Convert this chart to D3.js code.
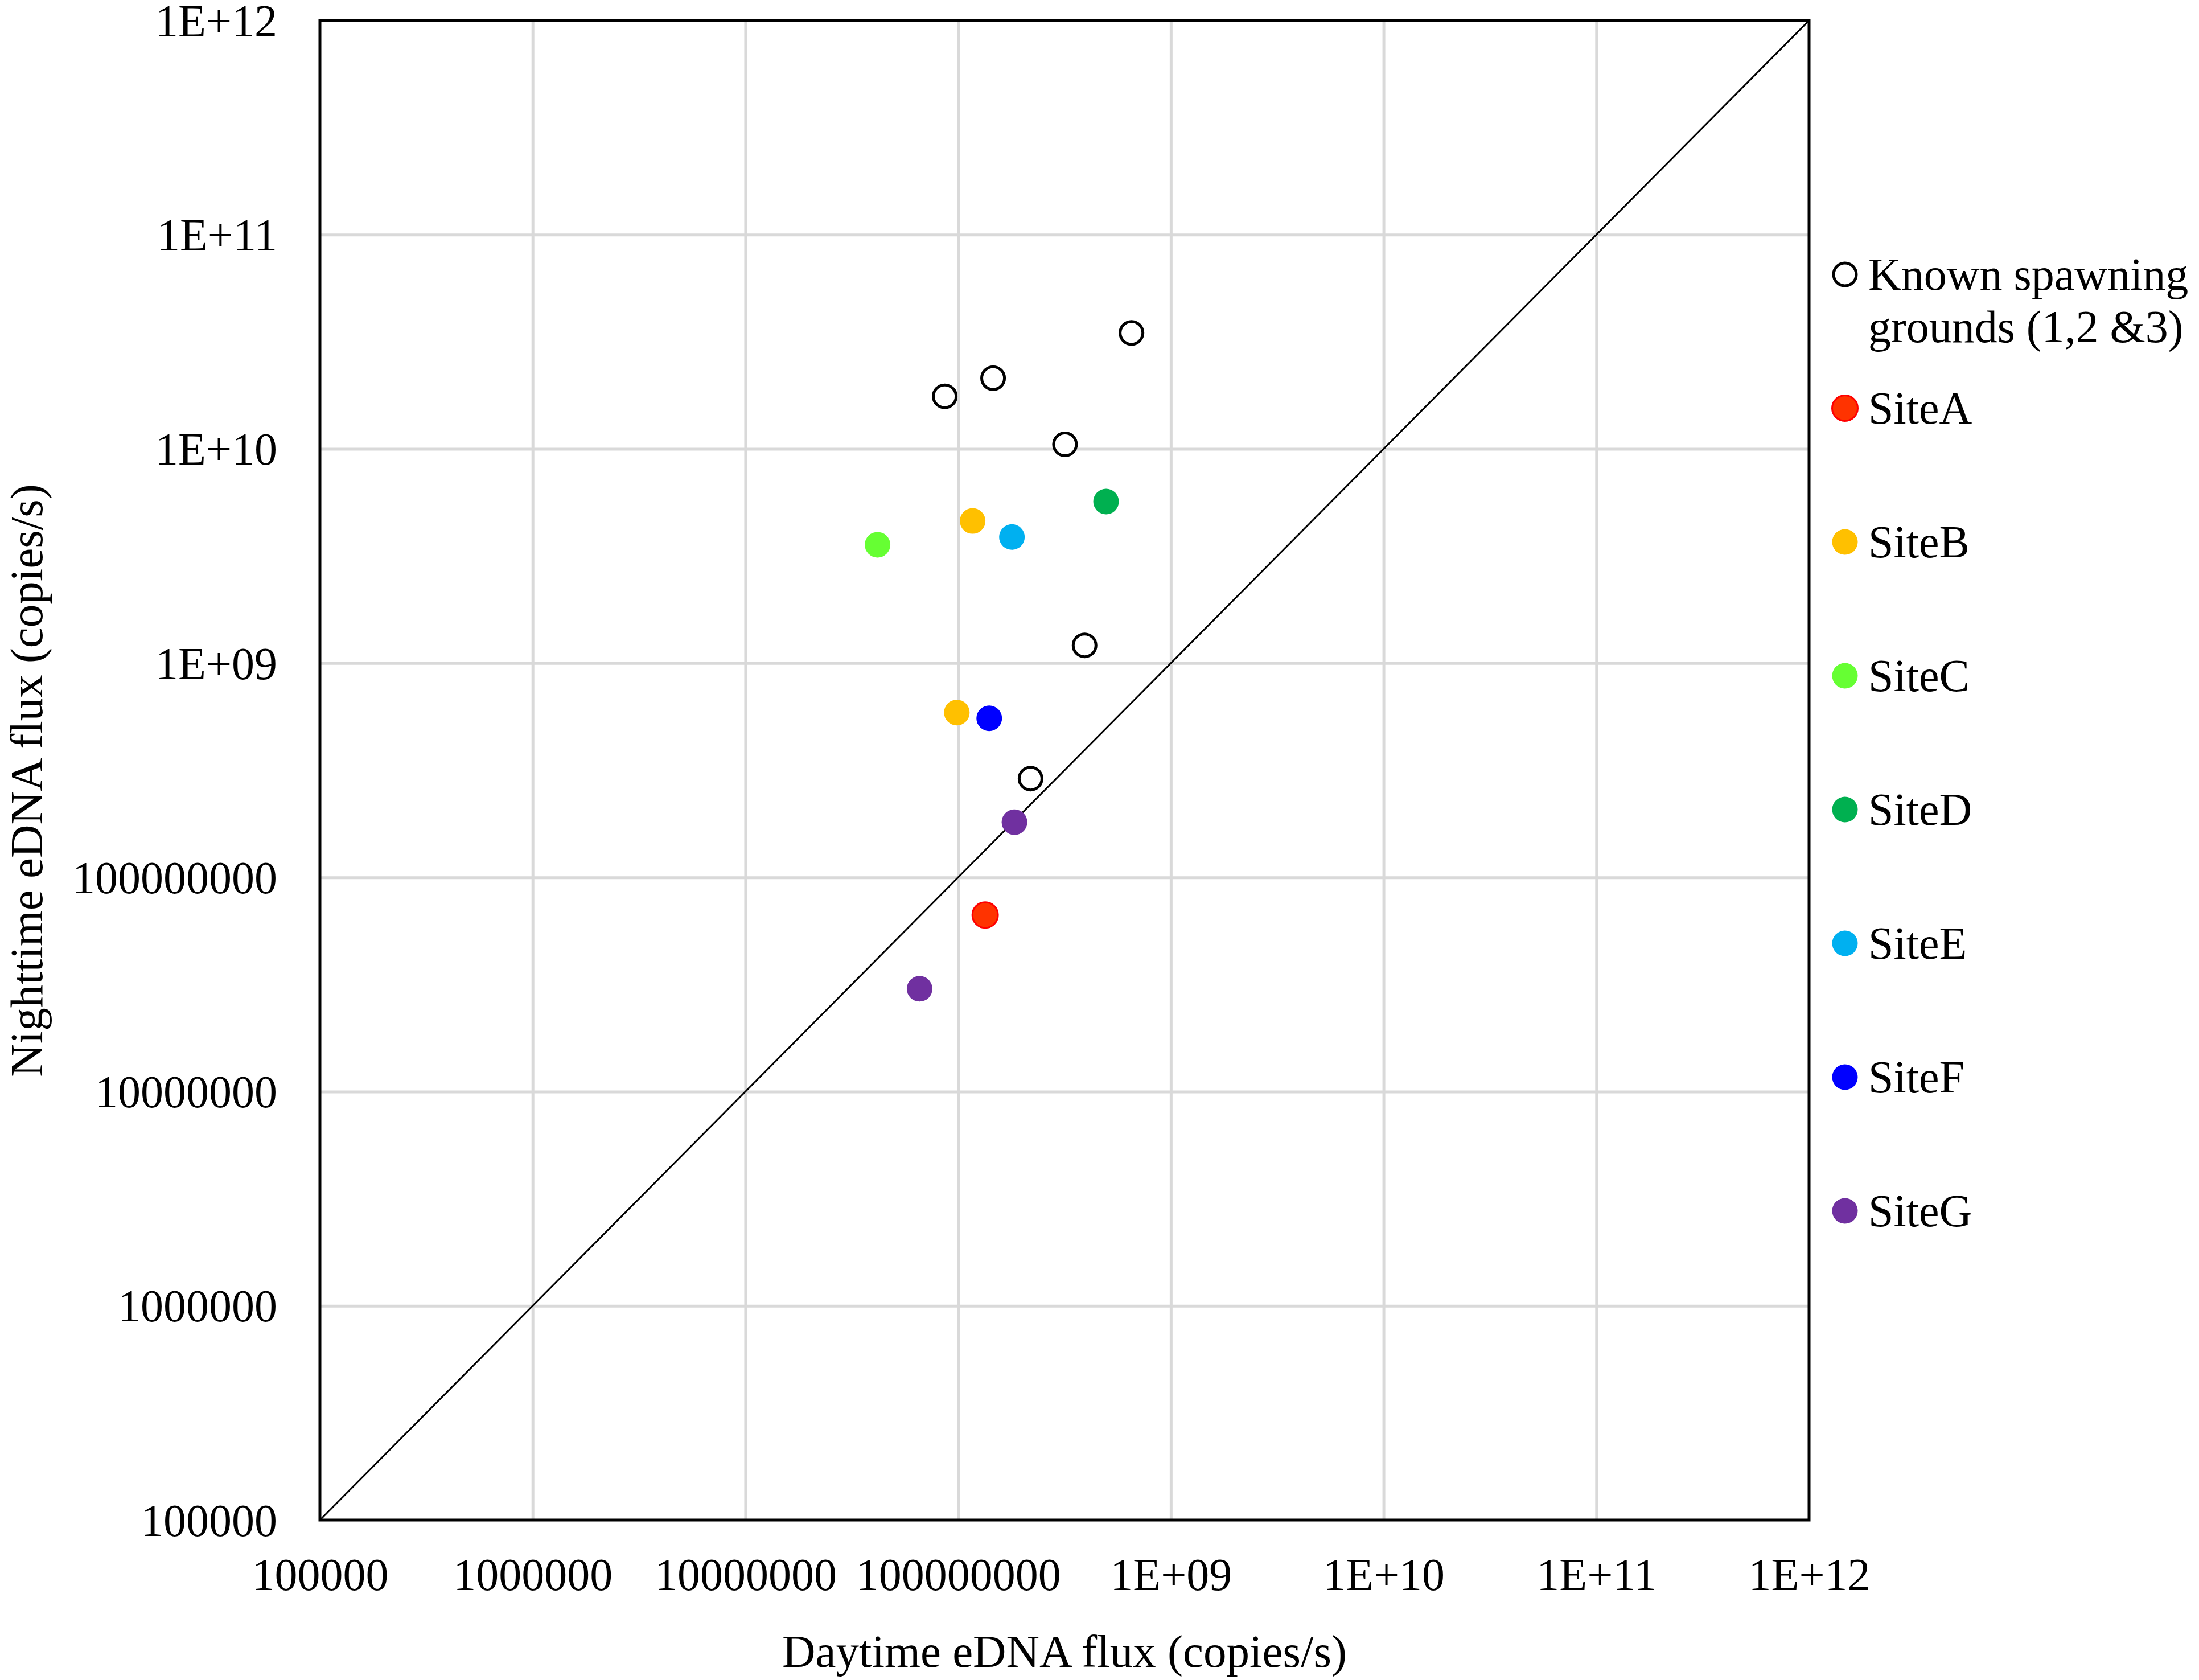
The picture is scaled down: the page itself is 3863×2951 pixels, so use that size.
<!DOCTYPE html>
<html>
<head>
<meta charset="utf-8">
<script src="https://cdn.jsdelivr.net/npm/d3@7"></script>
<style>
    body { margin: 0; background: #fff; }
    svg { display: block; }
</style>
</head>
<body>
<div id="chart"></div>
<script>
// tick values and the labels Excel put on them
const tickValues = [1e5, 1e6, 1e7, 1e8, 1e9, 1e10, 1e11, 1e12];
const tickLabels = ["100000", "1000000", "10000000", "100000000", "1E+09", "1E+10", "1E+11", "1E+12"];

// series (daytime flux, nighttime flux), copies/s
const seriesNames = ["Known spawning grounds (1,2 &3)", "SiteA", "SiteB", "SiteC", "SiteD", "SiteE", "SiteF", "SiteG"];
const seriesColors = ["#ffffff", "#ff3300", "#ffc000", "#66ff33", "#00b050", "#00b0f0", "#0000ff", "#7030a0"];

const knownDay = [8.65e7, 1.46e8, 6.53e8, 3.18e8, 3.93e8, 2.19e8];
const knownNight = [1.76e10, 2.14e10, 3.48e10, 1.05e10, 1.21e9, 2.89e8];
const siteADay = [1.34e8];
const siteANight = [6.67e7];
const siteBDay = [1.17e8, 9.86e7];
const siteBNight = [4.61e9, 5.88e8];
const siteCDay = [4.18e7];
const siteCNight = [3.57e9];
const siteDDay = [4.96e8];
const siteDNight = [5.68e9];
const siteEDay = [1.79e8];
const siteENight = [3.88e9];
const siteFDay = [1.40e8];
const siteFNight = [5.53e8];
const siteGDay = [1.84e8, 6.59e7];
const siteGNight = [1.81e8, 3.02e7];

const dayData = [knownDay, siteADay, siteBDay, siteCDay, siteDDay, siteEDay, siteFDay, siteGDay];
const nightData = [knownNight, siteANight, siteBNight, siteCNight, siteDNight, siteENight, siteFNight, siteGNight];

const width = 3863, height = 2951;
const plotLeft = 562, plotRight = 3178, plotTop = 36, plotBottom = 2670;
const font = "'Liberation Serif', 'Times New Roman', serif";

const svg = d3.select("#chart").append("svg")
    .attr("width", width)
    .attr("height", height)
    .style("font-family", font);

const x = d3.scaleLog().domain([1e5, 1e12]).range([plotLeft, plotRight]);
const y = d3.scaleLog().domain([1e5, 1e12]).range([plotBottom, plotTop]);

// gridlines
svg.append("g")
    .attr("transform", `translate(0,${plotBottom})`)
    .call(d3.axisBottom(x).tickValues(tickValues.slice(1, -1)).tickSize(-(plotBottom - plotTop)).tickFormat(""))
    .call(g => g.select(".domain").remove())
    .call(g => g.selectAll("line").attr("stroke", "#d9d9d9").attr("stroke-width", 5));

svg.append("g")
    .attr("transform", `translate(${plotLeft},0)`)
    .call(d3.axisLeft(y).tickValues(tickValues.slice(1, -1)).tickSize(-(plotRight - plotLeft)).tickFormat(""))
    .call(g => g.select(".domain").remove())
    .call(g => g.selectAll("line").attr("stroke", "#d9d9d9").attr("stroke-width", 5));

// tick labels
svg.append("g")
    .attr("transform", `translate(0,${plotBottom})`)
    .call(d3.axisBottom(x).tickValues(tickValues).tickSize(0).tickPadding(123)
        .tickFormat((d, i) => tickLabels[i]))
    .call(g => g.select(".domain").remove())
    .call(g => g.selectAll("text")
        .attr("dy", 0)
        .attr("fill", "#000")
        .style("font-family", font)
        .style("font-size", "80px"));

svg.append("g")
    .attr("transform", `translate(${plotLeft},0)`)
    .call(d3.axisLeft(y).tickValues(tickValues).tickSize(0).tickPadding(75)
        .tickFormat((d, i) => tickLabels[i]))
    .call(g => g.select(".domain").remove())
    .call(g => g.selectAll("text")
        .attr("dy", "0.34em")
        .attr("fill", "#000")
        .style("font-family", font)
        .style("font-size", "80px"));

// 1:1 line
svg.append("line")
    .attr("x1", x(1e5)).attr("y1", y(1e5))
    .attr("x2", x(1e12)).attr("y2", y(1e12))
    .attr("stroke", "#000")
    .attr("stroke-width", 3);

// frame
svg.append("rect")
    .attr("x", plotLeft).attr("y", plotTop)
    .attr("width", plotRight - plotLeft).attr("height", plotBottom - plotTop)
    .attr("fill", "none")
    .attr("stroke", "#000")
    .attr("stroke-width", 5);

// points
seriesNames.forEach((name, s) => {
    const pts = dayData[s].map((d, i) => ({ day: d, night: nightData[s][i] }));
    svg.append("g")
        .selectAll("circle")
        .data(pts)
        .enter().append("circle")
        .attr("cx", d => x(d.day))
        .attr("cy", d => y(d.night))
        .attr("r", s === 0 ? 20 : 22.5)
        .attr("fill", seriesColors[s])
        .attr("stroke", s === 0 ? "#000" : (s === 1 ? "#ff0000" : "none"))
        .attr("stroke-width", s === 0 ? 5 : 3);
});

// axis titles
svg.append("text")
    .attr("x", (plotLeft + plotRight) / 2)
    .attr("y", 2928)
    .attr("text-anchor", "middle")
    .style("font-size", "81px")
    .text("Daytime eDNA flux (copies/s)");

svg.append("text")
    .attr("transform", `translate(74,${(plotTop + plotBottom) / 2 + 18}) rotate(-90)`)
    .attr("text-anchor", "middle")
    .style("font-size", "81px")
    .text("Nighttime eDNA flux (copies/s)");

// legend
const legend = svg.append("g");
seriesNames.forEach((name, s) => {
    const ly = 482 + s * 235;
    legend.append("circle")
        .attr("cx", 3241)
        .attr("cy", ly)
        .attr("r", s === 0 ? 20 : 22.5)
        .attr("fill", seriesColors[s])
        .attr("stroke", s === 0 ? "#000" : (s === 1 ? "#ff0000" : "none"))
        .attr("stroke-width", s === 0 ? 5 : 3);
    const t = legend.append("text")
        .attr("x", 3282)
        .attr("y", ly + 27)
        .style("font-size", "80px");
    if (s === 0) {
        t.append("tspan").attr("x", 3282).text("Known spawning");
        t.append("tspan").attr("x", 3282).attr("dy", 92).text("grounds (1,2 &3)");
    } else {
        t.text(name);
    }
});
</script>
</body>
</html>
